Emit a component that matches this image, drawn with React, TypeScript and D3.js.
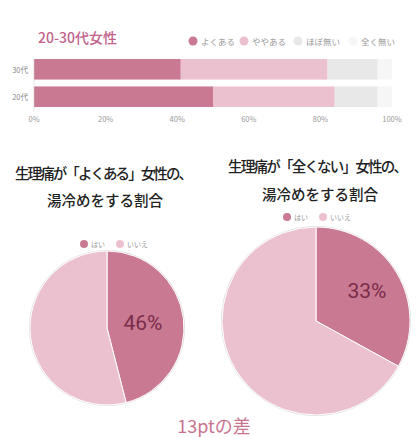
import * as d3 from "d3";

const W = 420;
const H = 437;
const FONT = "'Noto Sans CJK JP', 'Noto Sans', sans-serif";

// stacked bar data
const ageGroups = ["30代", "20代"];
const answerKeys = ["よくある", "ややある", "ほぼ無い", "全く無い"];
const answerColors = ["#c97a92", "#ecc1cf", "#e8e8e8", "#f6f6f6"];
const shares30 = [41, 41, 14, 4];
const shares20 = [50, 34, 12, 4];
const xTicks = [0, 20, 40, 60, 80, 100];

// pie data
const pieKeys = ["はい", "いいえ"];
const pieColors = ["#c97a92", "#ecc1cf"];
const oftenYes = [46, 54];
const neverYes = [33, 67];

const MARGIN = { left: 34, right: 28, top: 59 };

function Pie({
  values,
  cx,
  cy,
  r,
  label,
  labelPos,
}: {
  values: number[];
  cx: number;
  cy: number;
  r: number;
  label: string;
  labelPos: number;
}) {
  const arcs = d3.pie<number>().sort(null).value((d) => d)(values);
  const arcGen = d3.arc<d3.PieArcDatum<number>>().innerRadius(0).outerRadius(r);
  const labelArc = d3
    .arc<d3.PieArcDatum<number>>()
    .innerRadius(r * labelPos)
    .outerRadius(r * labelPos);
  const [lx, ly] = labelArc.centroid(arcs[0]);
  return (
    <g transform={`translate(${cx},${cy})`}>
      <circle r={r + 0.5} fill="none" stroke="#dcdcdc" strokeWidth={1} />
      {arcs.map((a, i) => (
        <path key={i} d={arcGen(a)!} fill={pieColors[i]} stroke="#fff" strokeWidth={1} />
      ))}
      <text
        x={lx}
        y={ly}
        textAnchor="middle"
        dominantBaseline="central"
        fontSize={21}
        fill="#7a2c4a"
        fontFamily="Roboto, 'Noto Sans', sans-serif"
      >
        {label}
      </text>
    </g>
  );
}

function PieLegend({ x, y }: { x: number; y: number }) {
  return (
    <g transform={`translate(${x},${y})`}>
      {pieKeys.map((k, i) => (
        <g key={k} transform={`translate(${i * 36},0)`}>
          <circle r={4} fill={pieColors[i]} />
          <text x={7} y={0} dominantBaseline="central" fontSize={7} fill="#999" fontFamily={FONT}>
            {k}
          </text>
        </g>
      ))}
    </g>
  );
}

export default function App() {
  const boundsWidth = W - MARGIN.left - MARGIN.right;
  const xScale = d3.scaleLinear().domain([0, 100]).range([0, boundsWidth]);
  const yScale = d3.scaleBand().domain(ageGroups).range([0, 48]).paddingInner(0.25);

  const rows = [shares30, shares20];
  const stacked = rows.map((vals) => {
    let acc = 0;
    return vals.map((v) => {
      const s = acc;
      acc += v;
      return [s, acc];
    });
  });

  const legendX = [193, 244, 298, 353];

  return (
    <svg width={W} height={H} style={{ position: "absolute", left: 0, top: 0, background: "#fff" }}>
      <rect width={W} height={H} fill="#fff" />
      <text x={38} y={37} fontSize={14} fontWeight={500} fill="#c2628c" dominantBaseline="central" fontFamily={FONT}>
        20-30代女性
      </text>
      {answerKeys.map((k, i) => (
        <g key={k} transform={`translate(${legendX[i]},41)`}>
          <circle r={4.5} fill={answerColors[i]} />
          <text x={8} dominantBaseline="central" fontSize={8.5} fill="#999" fontFamily={FONT}>
            {k}
          </text>
        </g>
      ))}

      <g transform={`translate(${MARGIN.left},${MARGIN.top})`}>
        {stacked.map((segs, r) => (
          <g key={r}>
            {segs.map(([a, b], i) => (
              <rect
                key={i}
                x={xScale(a)}
                width={xScale(b) - xScale(a)}
                y={yScale(ageGroups[r])}
                height={yScale.bandwidth()}
                fill={answerColors[i]}
              />
            ))}
            <text
              x={-6}
              y={yScale(ageGroups[r])! + yScale.bandwidth() / 2}
              textAnchor="end"
              dominantBaseline="central"
              fontSize={7.5}
              fill="#888"
              fontFamily={FONT}
            >
              {ageGroups[r]}
            </text>
          </g>
        ))}
        <line x1={0} x2={0} y1={0} y2={52} stroke="#ccc" strokeWidth={0.6} />
        {xTicks.map((t) => (
          <text
            key={t}
            x={xScale(t)}
            y={59}
            textAnchor="middle"
            dominantBaseline="central"
            fontSize={7.5}
            fill="#999"
            fontFamily={FONT}
          >
            {t}%
          </text>
        ))}
      </g>

      <g fontFamily={FONT} fontSize={14.5} fontWeight={500} fill="#222" textAnchor="middle">
        <text x={104} y={172} dominantBaseline="central" textLength={178} lengthAdjust="spacing">
          生理痛が「よくある」女性の、
        </text>
        <text x={105} y={199} dominantBaseline="central">湯冷めをする割合</text>
        <text x={318} y={165} dominantBaseline="central" textLength={180} lengthAdjust="spacing">
          生理痛が「全くない」女性の、
        </text>
        <text x={320} y={193} dominantBaseline="central">湯冷めをする割合</text>
      </g>

      <PieLegend x={84} y={244} />
      <PieLegend x={287} y={217} />

      <Pie values={oftenYes} cx={107} cy={328} r={77} label="46%" labelPos={0.47} />
      <Pie values={neverYes} cx={316} cy={321} r={94} label="33%" labelPos={0.63} />

      <text
        x={214}
        y={425}
        textAnchor="middle"
        dominantBaseline="central"
        fontSize={18}
        fill="#c9748f"
        fontFamily={FONT}
      >
        13ptの差
      </text>
    </svg>
  );
}
